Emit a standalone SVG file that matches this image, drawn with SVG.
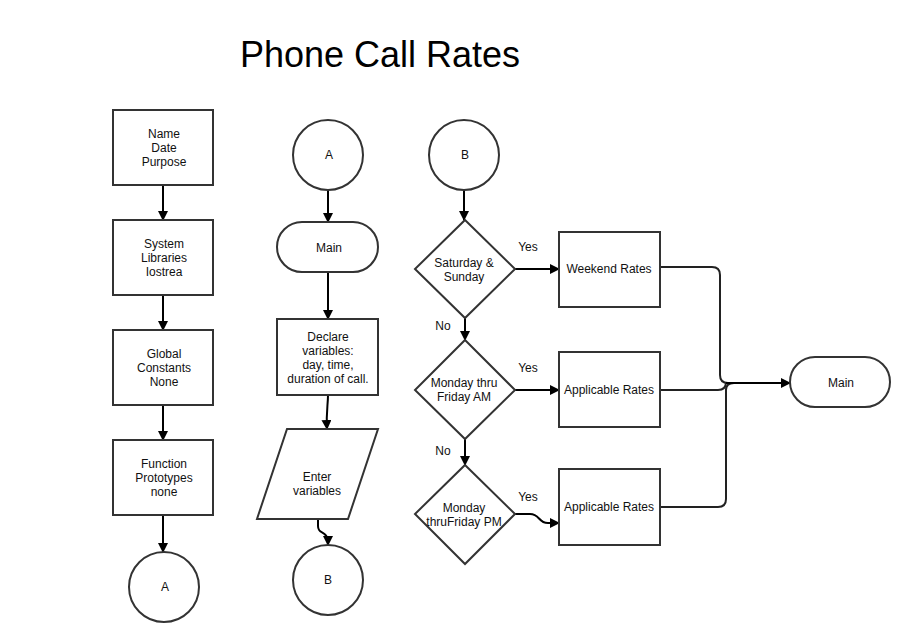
<svg xmlns="http://www.w3.org/2000/svg" width="910" height="640" viewBox="0 0 910 640">
<defs>
<marker id="arr" markerWidth="10" markerHeight="10" refX="9" refY="5" orient="auto" markerUnits="userSpaceOnUse">
<path d="M0,0 L10,5 L0,10 Z" fill="#000"/>
</marker>
<style>
.s{fill:#fff;stroke:#333;stroke-width:2}
.t{font-family:"Liberation Sans",Arial,sans-serif;font-size:12px;fill:#111;text-anchor:middle}
.c{fill:none;stroke:#000;stroke-width:2;marker-end:url(#arr)}
.c2{fill:none;stroke:#222;stroke-width:2}
</style>
</defs>
<rect width="910" height="640" fill="#fff"/>
<text x="380" y="67" style="font-family:'Liberation Sans',Arial,sans-serif;font-size:36px;fill:#000" text-anchor="middle">Phone Call Rates</text>

<g id="connectors">
<path class="c" d="M163,185 V220"/>
<path class="c" d="M163,295 V330"/>
<path class="c" d="M163,405 V440"/>
<path class="c" d="M163,515 V552"/>
<path class="c" d="M328,190 V222"/>
<path class="c" d="M328,272 V319"/>
<path class="c" d="M328,395 C328,405 326,412 327,429"/>
<path class="c" d="M318,519 V526 C318,536 328,528 328,545"/>
<path class="c" d="M464,190 V220"/>
<path class="c" d="M515,269 H559"/>
<path class="c" d="M465,318 V340"/>
<path class="c" d="M515,390 H559"/>
<path class="c" d="M465,439 V465"/>
<path class="c" d="M515,514 H530 C540,514 538,523 548,523 H559"/>
<path class="c2" d="M652,267 H712 Q720,267 720,275 V375 Q720,383 728,383"/>
<path class="c2" d="M660,390 H718 Q726,390 726,382"/>
<path class="c2" d="M660,507 H718 Q726,507 726,499 V390 Q726,383 734,383"/>
<path class="c" d="M726,383 H790"/>
</g>

<g id="n1"><rect class="s" x="113" y="110" width="100" height="75"/>
<text class="t" x="164" y="138">Name</text><text class="t" x="164" y="152">Date</text><text class="t" x="164" y="166">Purpose</text></g>
<g id="n2"><rect class="s" x="113" y="220" width="100" height="75"/>
<text class="t" x="164" y="248">System</text><text class="t" x="164" y="262">Libraries</text><text class="t" x="164" y="276">Iostrea</text></g>
<g id="n3"><rect class="s" x="113" y="330" width="100" height="75"/>
<text class="t" x="164" y="358">Global</text><text class="t" x="164" y="372">Constants</text><text class="t" x="164" y="386">None</text></g>
<g id="n4"><rect class="s" x="113" y="440" width="100" height="75"/>
<text class="t" x="164" y="468">Function</text><text class="t" x="164" y="482">Prototypes</text><text class="t" x="164" y="496">none</text></g>
<g id="a1"><circle class="s" cx="164" cy="587" r="35"/><text class="t" x="165" y="591">A</text></g>

<g id="a2"><circle class="s" cx="328" cy="155" r="35"/><text class="t" x="329" y="159">A</text></g>
<g id="main1"><rect class="s" x="277" y="222" width="101" height="50" rx="25"/><text class="t" x="329" y="252">Main</text></g>
<g id="declare"><rect class="s" x="277" y="319" width="101" height="76"/>
<text class="t" x="328" y="341">Declare</text><text class="t" x="328" y="355">variables:</text><text class="t" x="328" y="369">day, time,</text><text class="t" x="328" y="383">duration of call.</text></g>
<g id="enter"><polygon class="s" points="287,429 378,429 348,519 257,519"/>
<text class="t" x="317" y="481">Enter</text><text class="t" x="317" y="495">variables</text></g>
<g id="b1"><circle class="s" cx="328" cy="580" r="35"/><text class="t" x="328" y="584">B</text></g>

<g id="b2"><circle class="s" cx="464" cy="155" r="35"/><text class="t" x="465" y="159">B</text></g>
<g id="d1"><polygon class="s" points="465,220 515,269 465,318 415,269"/>
<text class="t" x="464" y="267">Saturday &amp;</text><text class="t" x="464" y="281">Sunday</text></g>
<g id="d2"><polygon class="s" points="465,340 515,390 465,439 415,390"/>
<text class="t" x="464" y="387">Monday thru</text><text class="t" x="464" y="401">Friday AM</text></g>
<g id="d3"><polygon class="s" points="465,465 515,514 465,564 415,514"/>
<text class="t" x="464" y="512">Monday</text><text class="t" x="464" y="526">thruFriday PM</text></g>
<g id="wr"><rect class="s" x="559" y="232" width="101" height="75"/><text class="t" x="609" y="273">Weekend Rates</text></g>
<g id="ar1"><rect class="s" x="559" y="352" width="101" height="75"/><text class="t" x="609" y="394">Applicable Rates</text></g>
<g id="ar2"><rect class="s" x="559" y="469" width="101" height="76"/><text class="t" x="609" y="511">Applicable Rates</text></g>
<g id="main2"><rect class="s" x="790" y="357" width="100" height="50" rx="25"/><text class="t" x="841" y="387">Main</text></g>

<g id="labels">
<text class="t" x="528" y="251">Yes</text>
<text class="t" x="443" y="330">No</text>
<text class="t" x="528" y="372">Yes</text>
<text class="t" x="443" y="455">No</text>
<text class="t" x="528" y="501">Yes</text>
</g>
</svg>
